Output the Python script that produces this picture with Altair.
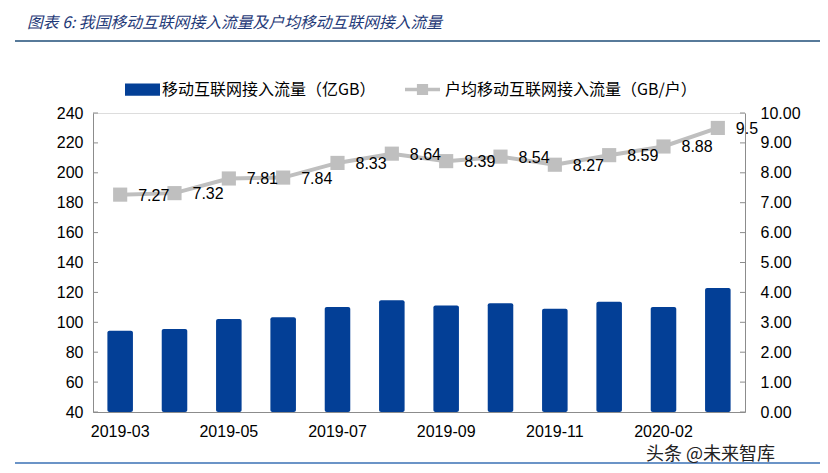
import altair as alt
import pandas as pd

# ---- data ----
months = ["2019-03", "2019-04", "2019-05", "2019-06", "2019-07", "2019-08",
          "2019-09", "2019-10", "2019-11", "2019-12", "2020-02", "2020-03"]
traffic = [94.4, 95.5, 102.2, 103.3, 110.2, 114.7, 111.3, 112.7, 109.1, 113.7, 110.2, 122.9]
per_user = [7.27, 7.32, 7.81, 7.84, 8.33, 8.64, 8.39, 8.54, 8.27, 8.59, 8.88, 9.5]
shown_months = ["2019-03", "2019-05", "2019-07", "2019-09", "2019-11", "2020-02"]
left_ticks = [40, 60, 80, 100, 120, 140, 160, 180, 200, 220, 240]
right_ticks = [0, 1, 2, 3, 4, 5, 6, 7, 8, 9, 10]
series_bar = "移动互联网接入流量（亿GB）"
series_line = "户均移动互联网接入流量（GB/户）"
title_text = "图表 6:  我国移动互联网接入流量及户均移动互联网接入流量"
watermark_text = "头条 @未来智库"

df = pd.DataFrame({"month": months, "traffic": traffic, "per_user": per_user})
df["bar_series"] = series_bar
df["line_series"] = series_line
lt = pd.DataFrame({"v": left_ticks})
rt = pd.DataFrame({"v": right_ticks})
one = pd.DataFrame({"k": [0]})

W, H = 652, 299
BLUE = "#033F96"
GRAY = "#BFBFBF"
AXIS = "#8C8C8C"
NUM_FONT = "Liberation Sans"
CJK_FONT = "Noto Sans CJK SC"

x_axis = alt.Axis(values=shown_months, labelAngle=0, ticks=False, labelPadding=11,
                  domainColor=AXIS, labelFontSize=16, labelFont=NUM_FONT,
                  labelColor="#000000", title=None, grid=False)
x_enc = alt.X("month:N", sort=months,
              scale=alt.Scale(paddingInner=0.53, paddingOuter=0.265), axis=x_axis)

left_scale = alt.Scale(domain=[40, 240], nice=False, zero=False)
left_axis = alt.Axis(values=left_ticks, ticks=False, labelPadding=10, format="d",
                     title=None, grid=False, domainColor=AXIS, labelFontSize=16,
                     labelFont=NUM_FONT, labelColor="#000000", orient="left")
right_scale = alt.Scale(domain=[0, 10], nice=False)
right_axis = alt.Axis(values=right_ticks, ticks=False, labelPadding=15, format=".2f",
                      title=None, grid=False, domainColor=AXIS, labelFontSize=16,
                      labelFont=NUM_FONT, labelColor="#000000", orient="right")

leg_bar = alt.Legend(orient="none", legendX=32, legendY=-41, title=None,
                     symbolType="M-1,-0.35L1,-0.35L1,0.35L-1,0.35Z", symbolSize=1225,
                     symbolStrokeWidth=0, labelFont=CJK_FONT, labelFontSize=16,
                     labelColor="#000000", labelOffset=2, padding=0, labelLimit=0)
leg_line = alt.Legend(orient="none", legendX=312, legendY=-41, title=None,
                      symbolType="M-1,-0.1L1,-0.1L1,0.1L-1,0.1Z M-0.32,-0.32L0.32,-0.32L0.32,0.32L-0.32,0.32Z",
                      symbolSize=1225, symbolStrokeWidth=0, symbolFillColor=GRAY,
                      labelFont=CJK_FONT, labelFontSize=16, labelColor="#000000",
                      labelOffset=5, padding=0, labelLimit=0)

bars = alt.Chart(df).mark_bar(cornerRadius=2).encode(
    x=x_enc,
    y=alt.Y("traffic:Q", scale=left_scale, axis=left_axis),
    y2=alt.datum(40),
    fill=alt.Fill("bar_series:N", scale=alt.Scale(domain=[series_bar], range=[BLUE]), legend=leg_bar),
)
left_tick_marks = alt.Chart(lt).mark_rule(color=AXIS).encode(
    y=alt.Y("v:Q", scale=left_scale, axis=left_axis),
    x=alt.value(0), x2=alt.value(5),
)

line = alt.Chart(df).mark_line(strokeWidth=4).encode(
    x=x_enc,
    y=alt.Y("per_user:Q", scale=right_scale, axis=right_axis),
    stroke=alt.Stroke("line_series:N", scale=alt.Scale(domain=[series_line], range=[GRAY]), legend=leg_line),
)
points = alt.Chart(df).mark_point(shape="square", filled=True, size=200, color=GRAY, opacity=1).encode(
    x=x_enc,
    y=alt.Y("per_user:Q", scale=right_scale, axis=right_axis),
)
labels = alt.Chart(df).mark_text(align="left", baseline="middle", dx=18, dy=1, fontSize=16,
                                 font=NUM_FONT, color="#000000").encode(
    x=x_enc,
    y=alt.Y("per_user:Q", scale=right_scale, axis=right_axis),
    text=alt.Text("per_user:Q"),
)
right_tick_marks = alt.Chart(rt).mark_rule(color=AXIS).encode(
    y=alt.Y("v:Q", scale=right_scale, axis=right_axis),
    x=alt.value(W - 5), x2=alt.value(W),
)

left = alt.layer(bars, left_tick_marks)
right = alt.layer(line, points, labels, right_tick_marks)

title_mark = alt.Chart(one).mark_text(text=title_text, align="left", baseline="middle",
                                      fontSize=15.8, font=CJK_FONT, fontStyle="italic",
                                      color="#1F3A78").encode(x=alt.value(-66), y=alt.value(-90))
title_rule = alt.Chart(one).mark_rule(color="#1F4E79", strokeWidth=1.5).encode(
    x=alt.value(-78), x2=alt.value(735), y=alt.value(-72))
bottom_rule = alt.Chart(one).mark_rule(color="#3A70B5", strokeWidth=1.5).encode(
    x=alt.value(-78), x2=alt.value(735), y=alt.value(350))
watermark = alt.Chart(one).mark_text(text=watermark_text, align="right", baseline="middle",
                                     fontSize=18, font=CJK_FONT, color="#222222").encode(
    x=alt.value(682), y=alt.value(342))

chart = alt.layer(left, right, title_mark, title_rule, bottom_rule, watermark).resolve_scale(
    y="independent", fill="independent", stroke="independent"
).properties(
    width=W, height=H,
    autosize=alt.AutoSizeParams(type="none"),
    padding={"left": 85, "top": 105, "right": 75, "bottom": 52},
).configure_view(stroke=None).configure(background="white")

chart.save("out.html", embed_options={"renderer": "svg", "actions": False})
